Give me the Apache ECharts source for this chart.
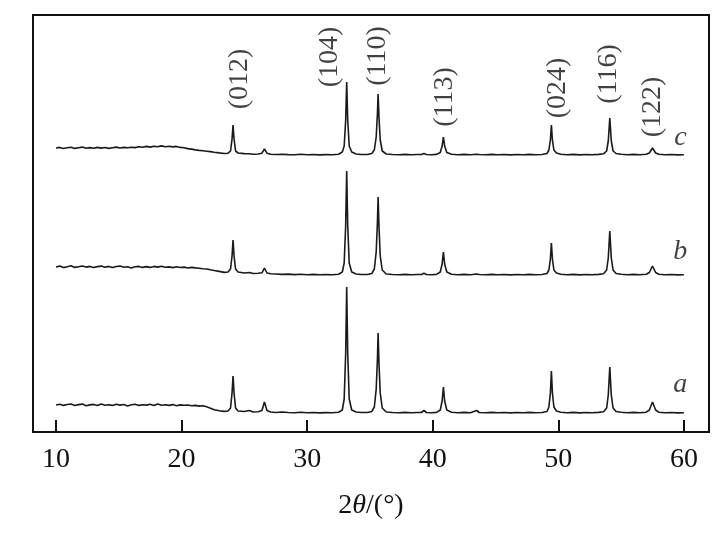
<!DOCTYPE html>
<html><head><meta charset="utf-8">
<script src="https://cdn.jsdelivr.net/npm/echarts@6/dist/echarts.min.js"></script>
<style>html,body{margin:0;padding:0;background:#fff}#c{width:725px;height:538px}</style>
</head><body><div id="c"></div>
<script>
// 2θ (deg) and intensity above each trace's own baseline (arb. units)
const traceA = [[10,8],[10.3,8.8],[10.6,7.6],[10.9,8.5],[11.2,9],[11.5,7.5],[11.8,8.4],[12.1,8.9],[12.4,7.2],[12.7,8.1],[13,8.6],[13.3,7.4],[13.6,9.1],[13.9,7.8],[14.2,8.3],[14.5,7.6],[14.8,8.8],[15.1,7.9],[15.4,8.5],[15.7,7.1],[16,8.2],[16.3,8.8],[16.6,7.6],[16.9,8.3],[17.2,7.9],[17.5,8.7],[17.8,7.6],[18.1,9],[18.4,7.8],[18.7,8.3],[19,7.6],[19.3,8.4],[19.6,7.3],[19.9,8.1],[20.2,7.7],[20.5,8],[20.8,7.2],[21.1,7.6],[21.4,6.9],[21.7,7.2],[22,6.2],[22.3,4.8],[22.6,3.2],[23,2.2],[23.4,1.6],[23.7,2],
 [23.9,5],[24.02,20],[24.1,37],[24.18,20],[24.3,5],[24.5,2],[25,1.5],[25.4,2.5],[25.7,1],[26.1,1.2],[26.4,2.5],[26.6,11],[26.8,2.5],[27.1,1],[27.5,0.5],[28,1],[28.5,0.5],[29,0.2],[29.5,0.8],[30,0.2],[30.5,0.5],[31,0.1],[31.5,0.4],[32,0.2],[32.5,0.8],[32.8,3],[32.95,14],[33.07,60],[33.15,126],[33.23,60],[33.35,14],[33.55,3],[33.9,1],[34.3,0.5],[34.8,0.5],[35.15,1.5],[35.35,6],[35.5,24],[35.6,55],[35.65,80],[35.72,50],[35.82,20],[35.98,5],[36.3,1],[36.8,0.5],[37.3,0.2],[37.8,0.6],[38.3,0.2],[38.8,0.5],[39.1,0.5],[39.3,2.5],[39.5,0.5],[39.9,0.3],[40.3,0.6],[40.6,3],[40.75,12],[40.85,26],[40.95,12],[41.12,3],[41.5,0.8],[42,0.3],[42.5,0.6],[43,0.3],[43.5,2.5],[43.7,0.5],[44.2,0.2],[44.7,0.6],[45.2,0.2],[45.7,0.5],[46.2,0.1],[46.7,0.5],[47.2,0.2],[47.7,0.6],[48.2,0.2],[48.7,0.5],[49.1,1.5],[49.25,6],[49.37,20],[49.45,42],[49.53,20],[49.65,6],[49.85,2],[50.2,0.8],[50.7,0.3],[51.2,0.6],[51.7,0.1],[52.2,0.5],[52.7,0.2],[53.2,0.6],[53.6,1.2],[53.85,5],[53.98,18],[54.1,46],[54.22,18],[54.36,5],[54.6,1.5],[55,0.8],[55.5,0.3],[56,0.6],[56.5,0.2],[57,0.8],[57.25,3],[57.5,11],[57.75,3],[58,0.8],[58.5,0.2],[59,0.5],[59.5,0.1],[60,0.3]];
const traceB = [[10,8],[10.3,8.9],[10.6,7.4],[10.9,8.2],[11.2,9.2],[11.5,7.6],[11.8,8.3],[12.1,9],[12.4,7.9],[12.7,8.6],[13,7.5],[13.3,8.4],[13.6,8.9],[13.9,7.7],[14.2,8.6],[14.5,7.4],[14.8,8.5],[15.1,8.9],[15.4,7.8],[15.7,8.3],[16,7.1],[16.3,8.2],[16.6,8.6],[16.9,7.6],[17.2,8.4],[17.5,7.6],[17.8,8.6],[18.1,7.9],[18.4,8.8],[18.7,7.7],[19,8.1],[19.3,7.4],[19.6,8.2],[19.9,7.5],[20.2,7.9],[20.5,7],[20.8,7.6],[21.1,7.1],[21.4,6.8],[21.7,6.2],[22,6],[22.3,5.2],[22.6,4.5],[23,3.6],[23.4,2.6],[23.7,3],
 [23.9,6],[24.02,19],[24.1,35],[24.18,19],[24.3,6],[24.5,3],[25,2],[25.4,2.5],[25.7,1.5],[26.1,1.8],[26.4,2.2],[26.6,7],[26.8,2],[27.1,1.2],[27.5,1],[28,0.6],[28.5,0.9],[29,0.4],[29.5,0.7],[30,0.3],[30.5,0.6],[31,0.2],[31.5,0.5],[32,0.2],[32.5,0.8],[32.8,3],[32.95,12],[33.07,50],[33.15,104],[33.23,50],[33.35,12],[33.55,3],[33.9,1],[34.3,0.5],[34.8,0.5],[35.15,1.5],[35.35,6],[35.5,23],[35.6,54],[35.65,78],[35.72,49],[35.82,19],[35.98,5],[36.3,1],[36.8,0.5],[37.3,0.2],[37.8,0.6],[38.3,0.2],[38.8,0.5],[39.1,0.5],[39.3,1.8],[39.5,0.5],[39.9,0.3],[40.3,0.6],[40.6,3],[40.75,11],[40.85,23],[40.95,11],[41.12,3],[41.5,0.8],[42,0.3],[42.5,0.6],[43,0.3],[43.5,1],[43.7,0.5],[44.2,0.2],[44.7,0.6],[45.2,0.2],[45.7,0.5],[46.2,0.1],[46.7,0.5],[47.2,0.2],[47.7,0.6],[48.2,0.2],[48.7,0.5],[49.1,1.5],[49.25,5],[49.37,16],[49.45,32],[49.53,16],[49.65,5],[49.85,2],[50.2,0.8],[50.7,0.3],[51.2,0.6],[51.7,0.1],[52.2,0.5],[52.7,0.2],[53.2,0.6],[53.6,1.2],[53.85,5],[53.98,17],[54.1,44],[54.22,17],[54.36,5],[54.6,1.5],[55,0.8],[55.5,0.3],[56,0.6],[56.5,0.2],[57,0.8],[57.25,2.5],[57.5,9],[57.75,2.5],[58,0.8],[58.5,0.2],[59,0.5],[59.5,0.1],[60,0.3]];
const traceC = [[10,7],[10.3,7.6],[10.6,6.5],[10.9,7.2],[11.2,7.8],[11.5,6.6],[11.8,7.3],[12.1,7.9],[12.4,6.7],[12.7,7.4],[13,6.8],[13.3,7.6],[13.6,6.9],[13.9,7.5],[14.2,6.6],[14.5,7.3],[14.8,7.9],[15.1,7],[15.4,7.6],[15.7,7.2],[16,7.8],[16.3,7.4],[16.6,8.3],[16.9,7.7],[17.2,8.6],[17.5,7.9],[17.8,8.8],[18.1,8.2],[18.4,9.1],[18.7,8.3],[19,8.7],[19.3,8.1],[19.6,8.6],[19.9,7.6],[20.2,7.3],[20.5,6.4],[20.8,5.9],[21.1,5.1],[21.4,4.6],[21.7,4.2],[22,3.8],[22.3,3.4],[22.6,2.8],[23,2.1],[23.4,1.5],[23.7,1.8],
 [23.9,4],[24.02,16],[24.1,30],[24.18,16],[24.3,4],[24.5,2],[25,1.4],[25.4,1.2],[25.7,0.8],[26.1,1],[26.4,1.8],[26.6,6],[26.8,1.8],[27.1,0.8],[27.5,0.5],[28,0.8],[28.5,0.4],[29,0.2],[29.5,0.7],[30,0.2],[30.5,0.5],[31,0.1],[31.5,0.4],[32,0.2],[32.5,0.8],[32.8,3],[32.95,9],[33.07,35],[33.15,73],[33.23,35],[33.35,9],[33.55,3],[33.9,1],[34.3,0.5],[34.8,0.5],[35.15,1.5],[35.35,5],[35.5,18],[35.6,42],[35.65,61],[35.72,38],[35.82,15],[35.98,4],[36.3,1],[36.8,0.5],[37.3,0.2],[37.8,0.6],[38.3,0.2],[38.8,0.5],[39.1,0.5],[39.3,1.5],[39.5,0.5],[39.9,0.3],[40.3,0.6],[40.6,2.5],[40.75,9],[40.85,18],[40.95,9],[41.12,2.5],[41.5,0.8],[42,0.3],[42.5,0.6],[43,0.3],[43.5,0.8],[43.7,0.5],[44.2,0.2],[44.7,0.6],[45.2,0.2],[45.7,0.5],[46.2,0.1],[46.7,0.5],[47.2,0.2],[47.7,0.6],[48.2,0.2],[48.7,0.5],[49.1,1.5],[49.25,5],[49.37,15],[49.45,30],[49.53,15],[49.65,5],[49.85,2],[50.2,0.8],[50.7,0.3],[51.2,0.6],[51.7,0.1],[52.2,0.5],[52.7,0.2],[53.2,0.6],[53.6,1.2],[53.85,4],[53.98,14],[54.1,37],[54.22,14],[54.36,4],[54.6,1.5],[55,0.8],[55.5,0.3],[56,0.6],[56.5,0.2],[57,0.7],[57.25,2],[57.5,7],[57.75,2],[58,0.7],[58.5,0.2],[59,0.5],[59.5,0.1],[60,0.3]];
const traceNames = ['a','b','c'];
const hklLabels = ['(012)','(104)','(110)','(113)','(024)','(116)','(122)'];
const hklAngles = [24.66,31.83,35.62,40.92,49.92,53.98,57.49];
const xTicks = [10,20,30,40,50,60];

// layout (offsets / annotation heights)
const offsets = [19,157,277];
const hklHeights = [353,375,376,335,344,358,325];
const nameX = 59.72, nameHeights = [47,180,294];

const serif = '"Liberation Serif","DejaVu Serif",serif';
const lineCol = '#1a1a1a';
const traces = [traceA, traceB, traceC];
const series = traces.map((t,i)=>({
  type:'line', showSymbol:false, symbol:'none', animation:false,
  data: t.map(p=>[p[0], p[1]+offsets[i]]),
  lineStyle:{color:lineCol, width:1.6}
}));
series.push({
  type:'scatter', symbolSize:0, animation:false, silent:true,
  data: hklLabels.map((s,i)=>({value:[hklAngles[i], hklHeights[i]], name:s})),
  label:{show:true, position:'inside', rotate:90, formatter:p=>p.name,
    fontFamily:serif, fontSize:28, color:'#111', align:'center', verticalAlign:'middle'}
});
series.push({
  type:'scatter', symbolSize:0, animation:false, silent:true,
  data: traceNames.map((s,i)=>({value:[nameX, nameHeights[i]], name:s})),
  label:{show:true, position:'inside', formatter:p=>p.name,
    fontFamily:serif, fontStyle:'italic', fontSize:28, color:'#111'}
});

const chart = echarts.init(document.getElementById('c'), null, {renderer:'canvas'});
chart.setOption({
  backgroundColor:'#fff',
  grid:{left:33, right:16, top:15, bottom:106, show:true, borderColor:'#111', borderWidth:2, backgroundColor:'transparent'},
  xAxis:{type:'value', min:8.17, max:62,
    name:'2{i|θ}/(°)', nameLocation:'middle', nameGap:60,
    nameTextStyle:{fontFamily:serif, fontSize:28, color:'#111',
      rich:{i:{fontFamily:serif, fontSize:28, fontStyle:'italic', color:'#111'}}},
    axisLine:{show:false},
    axisTick:{show:true, inside:true, length:12, customValues:xTicks, lineStyle:{color:'#111', width:2}},
    axisLabel:{show:true, customValues:xTicks, fontFamily:serif, fontSize:28, color:'#111', margin:14},
    splitLine:{show:false}},
  yAxis:{type:'value', min:0, max:417, show:false, splitLine:{show:false}},
  series
});
</script></body></html>
